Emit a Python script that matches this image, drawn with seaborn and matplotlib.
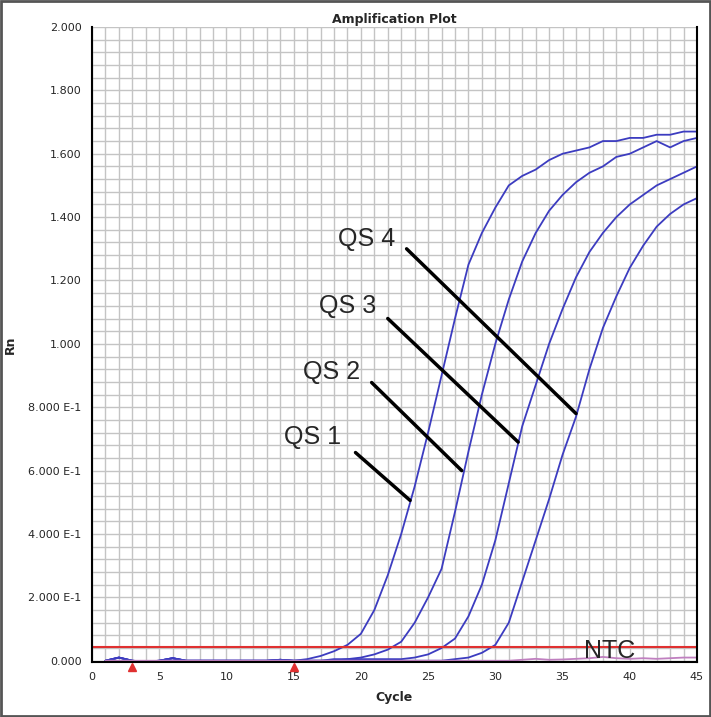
import numpy as np
import pandas as pd
import seaborn as sns
import matplotlib.pyplot as plt
from matplotlib.ticker import MultipleLocator, FixedLocator

# cycles and normalized reporter values
cycles = list(range(1, 46))
base = [0.0, 0.01, 0.0, -0.003, 0.0, 0.008, 0.0, 0.0, 0.0, 0.0, 0.0, 0.0, 0.0, 0.003, 0.0]
qs1 = base + [0.005, 0.015, 0.03, 0.05, 0.085, 0.16, 0.27, 0.40, 0.55, 0.72, 0.90, 1.08, 1.25, 1.35,
              1.43, 1.50, 1.53, 1.55, 1.58, 1.60, 1.61, 1.62, 1.64, 1.64, 1.65, 1.65, 1.66, 1.66, 1.67, 1.67]
qs2 = base + [0.0, 0.0, 0.005, 0.005,
              0.01, 0.02, 0.035, 0.06, 0.12, 0.20, 0.29, 0.47, 0.66, 0.84, 1.0, 1.14, 1.26, 1.35,
              1.42, 1.47, 1.51, 1.54, 1.56, 1.59, 1.60, 1.62, 1.64, 1.62, 1.64, 1.65]
qs3 = base + [0.0, 0.0, 0.0, 0.005, 0.005, 0.005, 0.005, 0.005,
              0.01, 0.02, 0.04, 0.07, 0.14, 0.24, 0.38, 0.56, 0.74, 0.87, 1.0, 1.11, 1.21, 1.29,
              1.35, 1.40, 1.44, 1.47, 1.50, 1.52, 1.54, 1.56]
qs4 = base + [0.0, 0.0, 0.0, 0.0, 0.0, 0.0, 0.0, 0.0, 0.0, 0.0, 0.0,
              0.005, 0.01, 0.025, 0.05, 0.12, 0.25, 0.38, 0.51, 0.65, 0.77, 0.92, 1.05, 1.15,
              1.24, 1.31, 1.37, 1.41, 1.44, 1.46]
ntc = [0.0] * 30 + [0.0, 0.003, 0.006, 0.003, 0.004, 0.006, 0.008, 0.012, 0.008, 0.006,
                    0.008, 0.006, 0.008, 0.01, 0.01]
threshold = 0.044
y_ticks = [0.0, 0.2, 0.4, 0.6, 0.8, 1.0, 1.2, 1.4, 1.6, 1.8, 2.0]
y_labels = ["0.000", "2.000 E-1", "4.000 E-1", "6.000 E-1", "8.000 E-1", "1.000",
            "1.200", "1.400", "1.600", "1.800", "2.000"]

df = pd.DataFrame({"Cycle": cycles, "QS 1": qs1, "QS 2": qs2, "QS 3": qs3, "QS 4": qs4, "NTC": ntc})
long = df.melt(id_vars="Cycle", var_name="sample", value_name="Rn")

sns.set_style("white")
fig = plt.figure(figsize=(7.11, 7.17), dpi=100)
ax = fig.add_axes([92 / 711, 55 / 717, 605 / 711, 635 / 717])

ax.xaxis.set_minor_locator(MultipleLocator(1))
ax.yaxis.set_minor_locator(MultipleLocator(0.04))
ax.grid(which="both", color="#c4c4c4", lw=1)
ax.set_axisbelow(True)

pal = {"QS 1": "#3c3cc0", "QS 2": "#3c3cc0", "QS 3": "#3c3cc0", "QS 4": "#3c3cc0", "NTC": "#c080c0"}
sns.lineplot(data=long, x="Cycle", y="Rn", hue="sample", palette=pal, lw=1.3, legend=False, ax=ax)
ax.axhline(threshold, color="#e03030", lw=1.5)

ax.set_xlim(0, 45)
ax.set_ylim(-0.004, 2.0)
ax.set_xticks([0, 5, 10, 15, 20, 25, 30, 35, 40, 45])
ax.yaxis.set_major_locator(FixedLocator(y_ticks))
ax.set_yticklabels(y_labels)
ax.tick_params(labelsize=8, length=4, color="#444444")
ax.tick_params(which="minor", length=0)
for s in ax.spines.values():
    s.set_color("black")
    s.set_linewidth(1.5)
ax.spines["top"].set_visible(False)

ax.set_xlabel("Cycle", fontsize=9, fontweight="bold", labelpad=6)
ax.set_ylabel("Rn", fontsize=9, fontweight="bold", labelpad=8)
ax.set_title("Amplification Plot", fontsize=9, fontweight="bold", pad=3)

# callout labels
callouts = [("QS 1", (16.4, 0.705), (19.6, 0.657), (23.66, 0.506)),
            ("QS 2", (17.8, 0.91), (20.8, 0.878), (27.5, 0.60)),
            ("QS 3", (19.0, 1.12), (22.0, 1.08), (31.7, 0.69)),
            ("QS 4", (20.4, 1.33), (23.4, 1.30), (36.0, 0.78))]
for name, txt, p0, p1 in callouts:
    ax.text(txt[0], txt[1], name, fontsize=18, family="Liberation Sans", ha="center", va="center")
    ax.plot([p0[0], p1[0]], [p0[1], p1[1]], color="black", lw=2.5)
ax.text(38.5, 0.03, "NTC", fontsize=18, family="Liberation Sans", ha="center", va="center")

# threshold start/end markers
ax.plot([3, 15], [-0.02, -0.02], ls="none", marker="^", color="#e03030", ms=6, clip_on=False)

fig.patches.append(plt.Rectangle((0.002, 0.002), 0.996, 0.996, transform=fig.transFigure,
                                 fill=False, ec="#555555", lw=2))
fig.savefig("out.png", dpi=100)
